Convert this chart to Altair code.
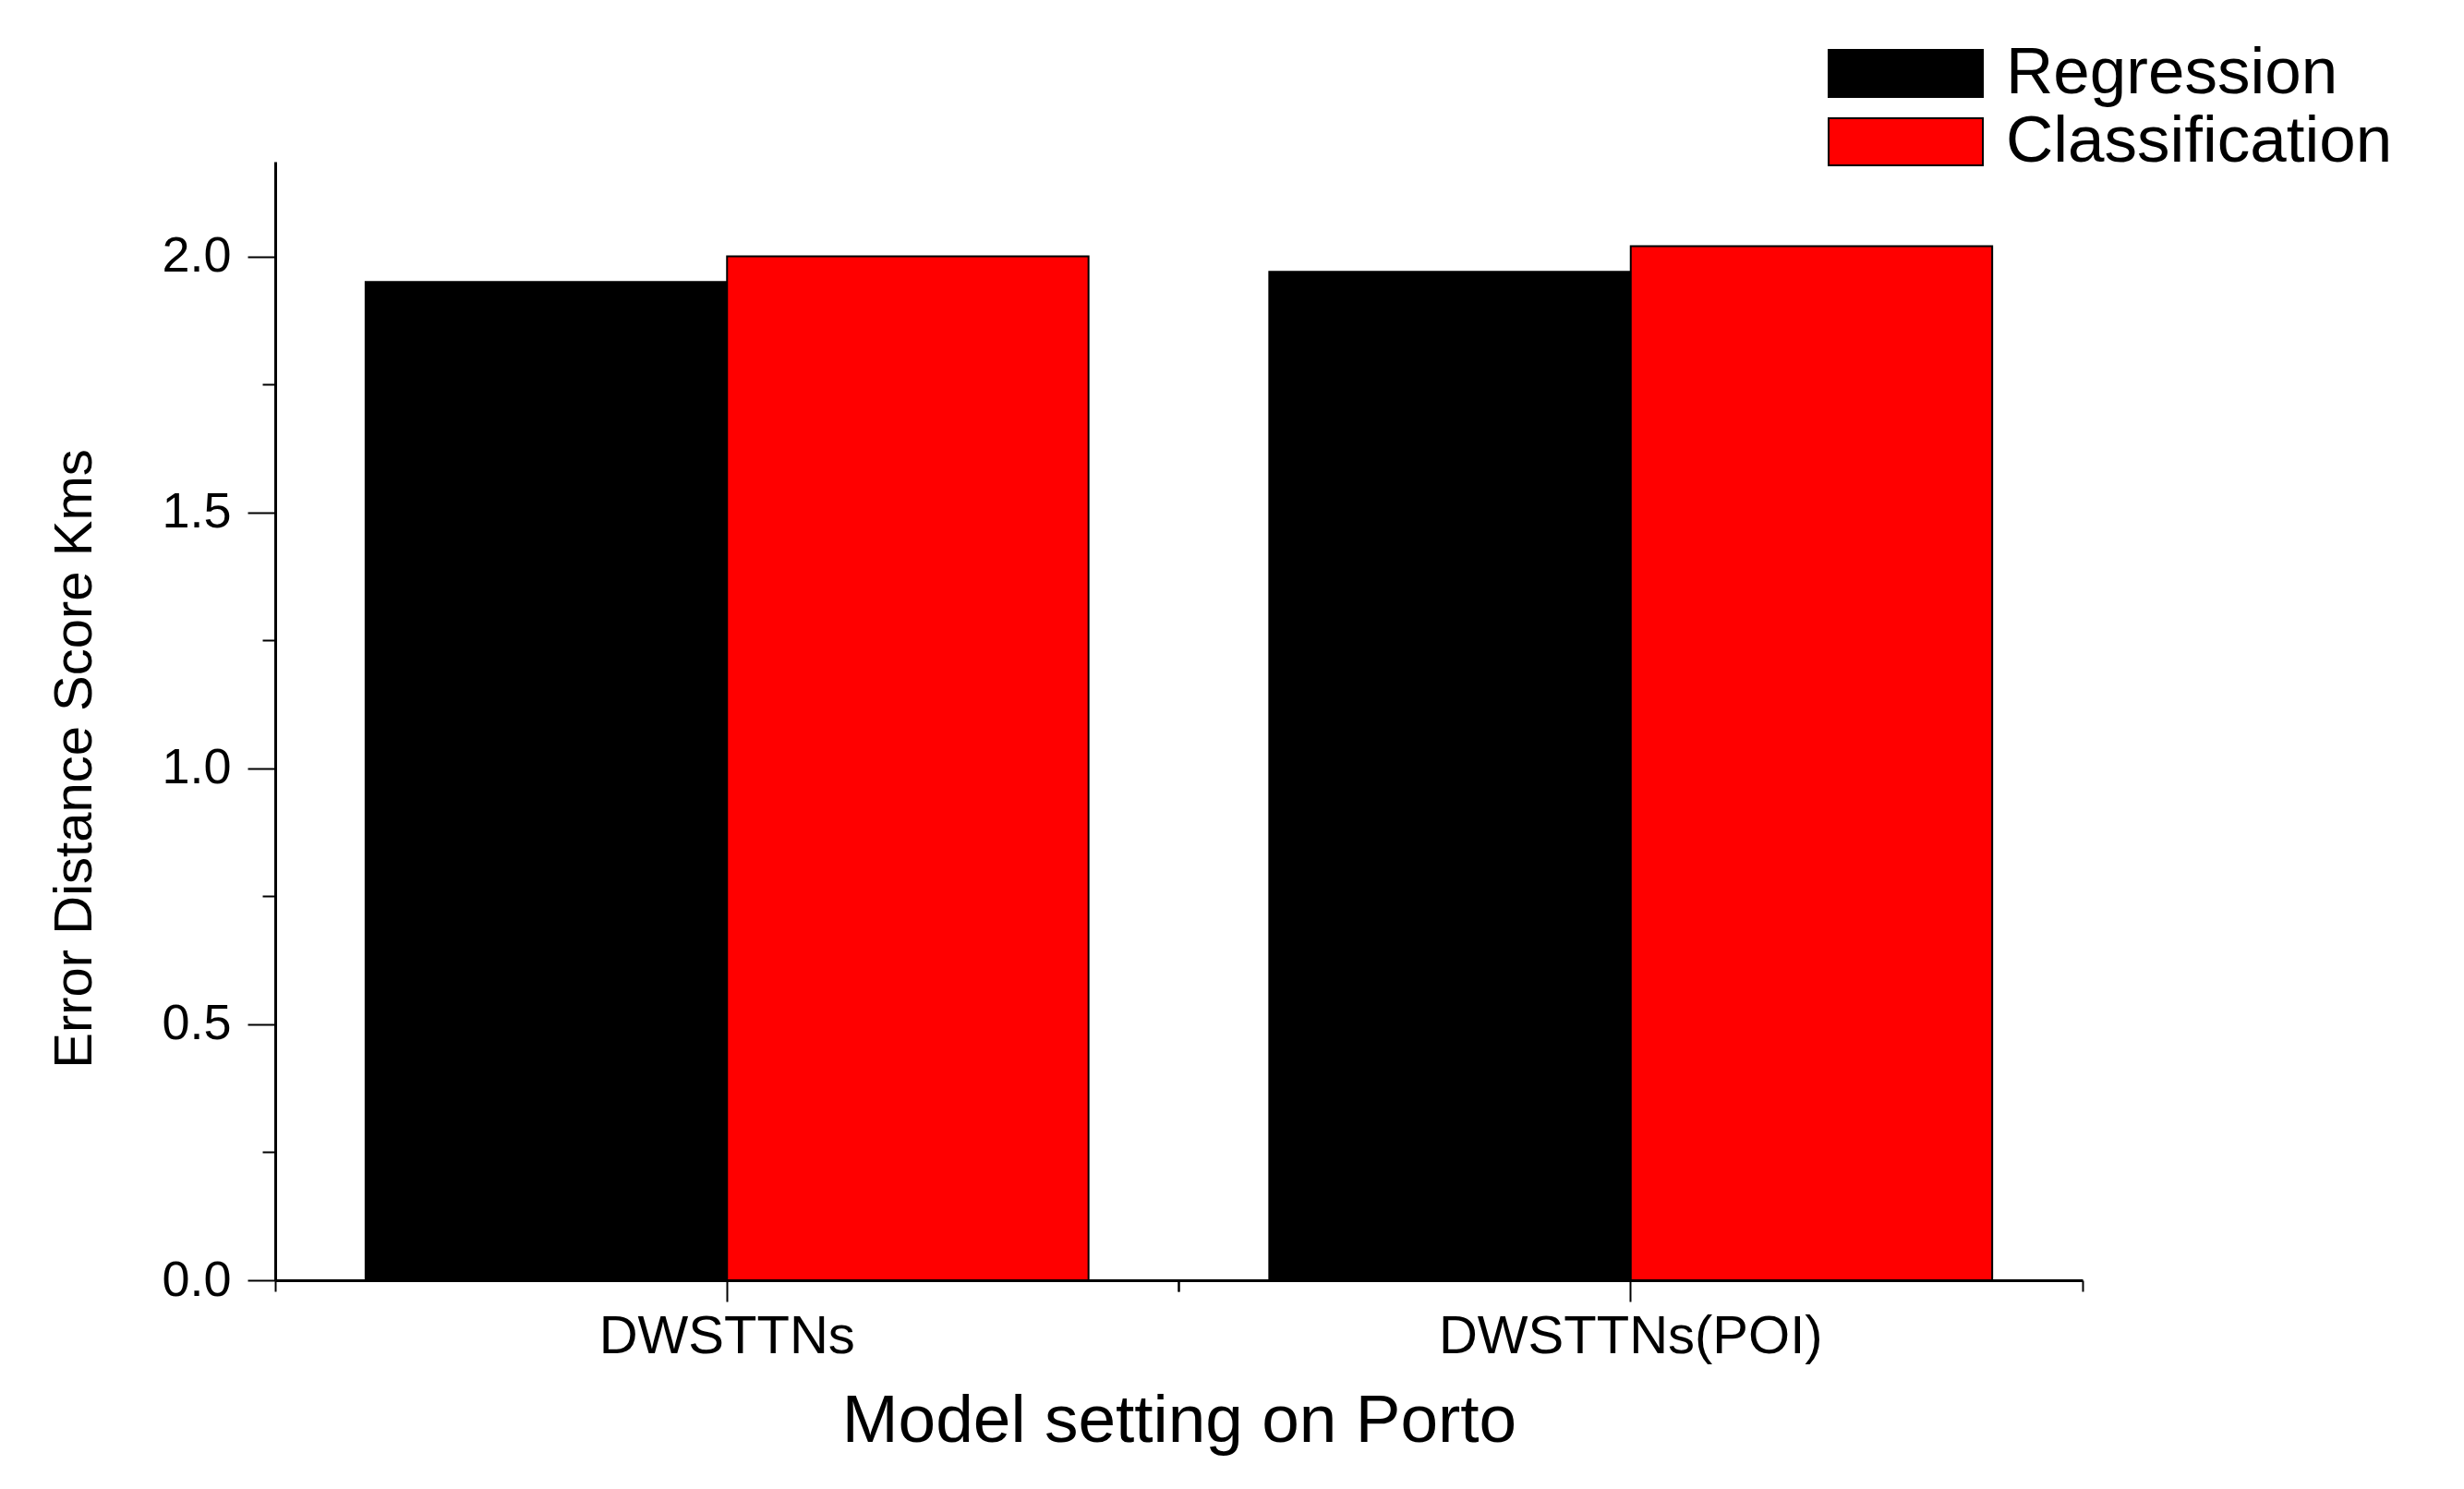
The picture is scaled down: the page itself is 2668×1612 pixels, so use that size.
import altair as alt
import pandas as pd

categories = ["DWSTTNs", "DWSTTNs(POI)"]
series = ["Regression", "Classification"]
regression = [1.95, 1.97]
classification = [2.00, 2.02]
colors = ["#000000", "#ff0000"]
major_ticks = [0.0, 0.5, 1.0, 1.5, 2.0]
minor_ticks = [0.25, 0.75, 1.25, 1.75]

rows = []
for c, r, k in zip(categories, regression, classification):
    rows.append({"setting": c, "method": "Regression", "score": r})
    rows.append({"setting": c, "method": "Classification", "score": k})
df = pd.DataFrame(rows)

FONT = "Liberation Sans"

xscale = alt.Scale(paddingInner=0.2, paddingOuter=0.1)
yscale = alt.Scale(domain=[0, 2.185], nice=False, zero=True)

base = alt.Chart(df)

bars = base.mark_bar(stroke="black", strokeWidth=2).encode(
    x=alt.X("setting:N", sort=categories, scale=xscale,
            axis=alt.Axis(title="Model setting on Porto", labelAngle=0,
                          tickSize=23, tickWidth=2, tickColor="black",
                          domainWidth=3, domainColor="black",
                          labelFontSize=58, labelFont=FONT, labelColor="black",
                          labelPadding=9, labelLimit=0, titleFontSize=73, titleFont=FONT,
                          titleFontWeight="normal", titleColor="black",
                          titlePadding=26, orient="bottom")),
    xOffset=alt.XOffset("method:N", sort=series),
    y=alt.Y("score:Q", scale=yscale,
            axis=alt.Axis(title="Error Distance Score Kms", values=major_ticks,
                          format=".1f", tickSize=30, tickWidth=2, tickColor="black",
                          domainWidth=3, domainColor="black", grid=False,
                          labelFontSize=54, labelFont=FONT, labelColor="black",
                          labelPadding=18, titleFontSize=58, titleFont=FONT,
                          titleFontWeight="normal", titleColor="black",
                          titlePadding=64, titleY=646, orient="left")),
    color=alt.Color("method:N", sort=series,
                    scale=alt.Scale(domain=series, range=colors),
                    legend=alt.Legend(title=None, orient="none", legendX=1730, legendY=-131,
                                      symbolType="M-3.275,-1L3.275,-1L3.275,1L-3.275,1Z",
                                      symbolSize=2601, symbolStrokeColor="black",
                                      symbolStrokeWidth=2, symbolOpacity=1,
                                      labelFontSize=71, labelFont=FONT, labelColor="black",
                                      labelOffset=73, rowPadding=2, padding=0,
                                      labelLimit=0)),
)

minor = base.mark_bar(opacity=0).encode(
    x=alt.X("setting:N", sort=categories, scale=xscale,
            axis=alt.Axis(title=None, labels=False, domain=False, bandPosition=-0.125,
                          tickSize=12, tickWidth=2, tickColor="black", orient="bottom")),
    xOffset=alt.XOffset("method:N", sort=series),
    y=alt.Y("score:Q", scale=yscale,
            axis=alt.Axis(title=None, labels=False, domain=False, values=minor_ticks,
                          tickSize=14, tickWidth=2, tickColor="black", grid=False,
                          orient="left")),
)

edge = base.mark_bar(opacity=0).encode(
    x=alt.X("setting:N", sort=categories, scale=xscale,
            axis=alt.Axis(title=None, labels=False, domain=False, bandPosition=1.125,
                          tickSize=12, tickWidth=2, tickColor="black", orient="bottom")),
    xOffset=alt.XOffset("method:N", sort=series),
    y=alt.Y("score:Q", scale=yscale, axis=None),
)

chart = alt.layer(bars, minor, edge).resolve_axis(x="independent", y="independent").properties(
    width=1957, height=1211,
    autosize=alt.AutoSizeParams(type="none"),
    padding={"left": 290, "top": 167, "right": 400, "bottom": 215},
    background="white",
).configure_view(stroke=None)

chart.save("out.html", embed_options={"renderer": "svg", "actions": False})
